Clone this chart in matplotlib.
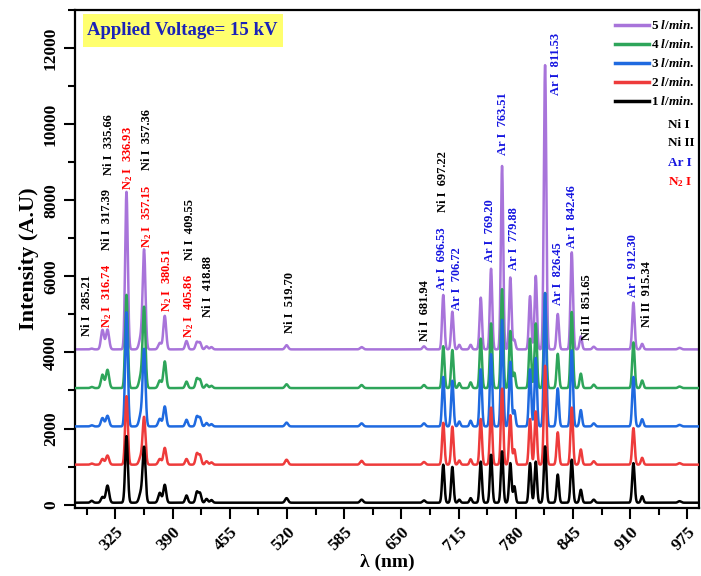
import numpy as np
import matplotlib.pyplot as plt
from matplotlib.patches import Rectangle
from matplotlib.ticker import MultipleLocator

plt.rcParams['font.family'] = ['Liberation Serif', 'DejaVu Serif']
plt.rcParams['font.weight'] = 'bold'
plt.rcParams['mathtext.fontset'] = 'custom'
plt.rcParams['mathtext.rm'] = 'Liberation Serif:bold'
plt.rcParams['mathtext.it'] = 'Liberation Serif:italic:bold'
plt.rcParams['mathtext.bf'] = 'Liberation Serif:bold'

# emission lines (nm) and their widths (sigma, nm)
line_nm = [298.0, 310.2, 315.9, 337.5, 353.7, 357.5, 375.4, 381.0, 405.7, 417.5,
           421.0, 428.5, 434.0, 519.4, 604.7, 675.6, 697.5, 707.8, 715.7, 728.6,
           740.1, 751.8, 764.3, 773.7, 778.3, 796.1, 802.6, 813.2, 827.6, 843.5,
           853.8, 868.5, 913.6, 923.5, 966.0]
line_sigma = [1.5, 1.7, 1.8, 1.5, 1.9, 1.6, 1.8, 1.6, 1.5, 1.5,
              1.5, 1.5, 1.5, 1.7, 1.7, 1.6, 1.35, 1.35, 1.3, 1.3,
              1.35, 1.35, 1.35, 1.35, 1.3, 1.35, 1.35, 1.4, 1.35, 1.4,
              1.35, 1.5, 1.4, 1.35, 1.7]

# peak heights above baseline for each flow rate
h_1 = [50, 150, 450, 1750, 250, 1440, 260, 470, 190, 280,
       250, 100, 70, 120, 80, 60, 1000, 940, 80, 120,
       1080, 1260, 1350, 1040, 430, 1040, 1080, 1480, 740, 1130,
       340, 80, 1040, 170, 40]
h_2 = [30, 150, 240, 1800, 200, 1230, 150, 440, 150, 290,
       250, 90, 60, 130, 100, 70, 1100, 1000, 110, 140,
       1200, 1500, 2000, 1300, 400, 1200, 1400, 2600, 850, 1500,
       400, 90, 960, 180, 40]
h_3 = [30, 220, 280, 3000, 300, 2000, 200, 525, 175, 260,
       230, 90, 60, 100, 80, 80, 1300, 1200, 130, 150,
       1500, 1900, 2800, 1700, 420, 1500, 1800, 3500, 1000, 2000,
       430, 80, 1300, 190, 40]
h_4 = [30, 350, 480, 2450, 300, 2100, 200, 700, 170, 250,
       220, 90, 60, 100, 80, 80, 1100, 1000, 130, 150,
       1300, 1700, 2600, 1500, 400, 1300, 1700, 2500, 900, 2000,
       380, 90, 1200, 200, 40]
h_5 = [20, 510, 520, 4140, 300, 2590, 170, 880, 220, 190,
       180, 80, 60, 110, 60, 80, 1430, 990, 120, 120,
       1360, 2120, 4820, 1890, 250, 1400, 1930, 7470, 930, 2550,
       340, 70, 1230, 145, 40]

flow_labels = ['1', '2', '3', '4', '5']
offsets = [0, 1000, 2000, 3000, 4000]
baselines = [50, 50, 55, 63, 80]
colors = ['black', '#EE3B3B', '#1F6AE0', '#2EA55A', '#A874DA']

# annotations: text, x (nm), y (A.U), colour
species_color = {'Ni': 'black', 'N2': '#FF0000', 'Ar': '#1515E0'}
annotations = [
    ('Ni I  285.21', 292.7, 4420, 'Ni'),
    ('N$_2$ I  316.74', 315.9, 4640, 'N2'),
    ('Ni I  317.39', 315.9, 6690, 'Ni'),
    ('Ni I  335.66', 317.5, 8660, 'Ni'),
    ('N$_2$ I  336.93', 339.4, 8270, 'N2'),
    ('Ni I  357.36', 361.0, 8790, 'Ni'),
    ('N$_2$ I  357.15', 361.0, 6740, 'N2'),
    ('N$_2$ I  380.51', 383.7, 5070, 'N2'),
    ('Ni I  409.55', 409.5, 6430, 'Ni'),
    ('N$_2$ I  405.86', 408.7, 4375, 'N2'),
    ('Ni I  418.88', 430.3, 4940, 'Ni'),
    ('Ni I  519.70', 523.2, 4510, 'Ni'),
    ('Ni I  681.94', 676.7, 4290, 'Ni'),
    ('Ar I  696.53', 695.7, 5640, 'Ar'),
    ('Ni I  697.22', 697.5, 7700, 'Ni'),
    ('Ar I  706.72', 712.8, 5120, 'Ar'),
    ('Ar I  769.20', 750.1, 6390, 'Ar'),
    ('Ar I  763.51', 765.8, 9190, 'Ar'),
    ('Ar I  779.88', 778.3, 6170, 'Ar'),
    ('Ar I  826.45', 827.6, 5250, 'Ar'),
    ('Ar I  811.53', 825.7, 10760, 'Ar'),
    ('Ar I  842.46', 843.5, 6740, 'Ar'),
    ('Ni II  851.65', 860.6, 4330, 'Ni'),
    ('Ar I  912.30', 912.9, 5470, 'Ar'),
    ('Ni II  915.34', 929.5, 4680, 'Ni'),
]

wl = np.arange(279, 988.05, 0.1)


def spectrum(heights, base):
    y = np.full_like(wl, float(base))
    for c, s, h in zip(line_nm, line_sigma, heights):
        y += h * np.exp(-0.5 * ((wl - c) / s) ** 2)
    return y


fig = plt.figure(figsize=(7.01, 5.76), dpi=100)
ax = fig.add_axes([0.107, 0.118, 0.890, 0.8646])

all_h = [h_1, h_2, h_3, h_4, h_5]
handles = []
for i in [4, 3, 2, 1, 0]:
    ln, = ax.plot(wl, spectrum(all_h[i], baselines[i]) + offsets[i],
                  color=colors[i], lw=1.8, zorder=2 + (4 - i),
                  label=flow_labels[i] + r' $\it{l/min.}$')
    handles.append(ln)

for txt, x, y, sp in annotations:
    ax.text(x, y, txt, rotation=90, ha='center', va='bottom', fontsize=9,
            fontweight='bold', color=species_color[sp], zorder=10)

ax.set_xlim(279, 988)
ax.set_ylim(-90, 13000)
ax.xaxis.set_minor_locator(MultipleLocator(32.5))
ax.set_xticks(np.arange(325, 976, 65))
ax.yaxis.set_major_locator(MultipleLocator(2000))
ax.yaxis.set_minor_locator(MultipleLocator(1000))
ax.tick_params(axis='both', which='major', direction='out', length=8, width=1.5, labelsize=12.5)
ax.tick_params(axis='both', which='minor', direction='out', length=5, width=1.5)
for lab in ax.get_xticklabels():
    lab.set_rotation(45)
    lab.set_ha('right')
    lab.set_rotation_mode('anchor')
    lab.set_fontweight('bold')
for lab in ax.get_yticklabels():
    lab.set_rotation(90)
    lab.set_va('center')
    lab.set_fontweight('bold')
for sp in ax.spines.values():
    sp.set_linewidth(1.6)

ax.set_xlabel('λ (nm)', fontsize=14, fontweight='bold', labelpad=0)
ax.set_ylabel('Intensity (A.U)', fontsize=16, fontweight='bold', labelpad=3)

# applied voltage box
ax.add_patch(Rectangle((0.0128, 0.9257), 0.3205, 0.0663, transform=ax.transAxes,
                       facecolor='#FFFF6E', edgecolor='none', zorder=11))
ax.text(0.019, 0.959, 'Applied Voltage= 15 kV', transform=ax.transAxes, fontsize=13.5,
        fontweight='bold', color='#1A22B8', va='center', ha='left', zorder=12)

leg = ax.legend(handles=handles, loc='upper left', bbox_to_anchor=(0.865, 0.981),
                frameon=False, fontsize=9.5, handlelength=2.6, handletextpad=0.15,
                labelspacing=0.45, borderpad=0, borderaxespad=0)
for h in leg.legend_handles:
    h.set_linewidth(2.5)

for txt, yy, sp in [('Ni I', 0.769, 'Ni'), ('Ni II', 0.733, 'Ni'),
                    ('Ar I', 0.693, 'Ar'), ('N$_2$ I', 0.655, 'N2')]:
    ax.text(0.950, yy, txt, transform=ax.transAxes, fontsize=9.5, fontweight='bold',
            color=species_color[sp], va='center', ha='left')

fig.savefig('out.png', dpi=100)
